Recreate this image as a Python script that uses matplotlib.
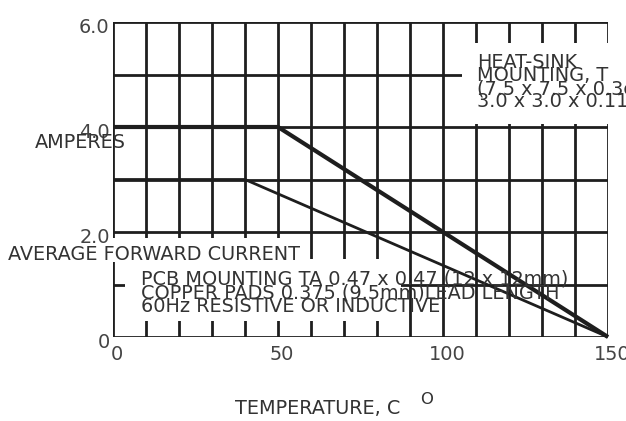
import matplotlib
matplotlib.use("Agg")
import matplotlib.pyplot as plt
from matplotlib.patches import Rectangle

# ---- data ----
temp_heatsink = [0, 50, 150]
amps_heatsink = [4.0, 4.0, 0.0]
temp_pcb = [0, 40, 150]
amps_pcb = [3.0, 3.0, 0.0]
x_ticks = [0, 50, 100, 150]
x_ticklabels = ["0", "50", "100", "150"]
y_ticks = [0, 2, 4, 6]
y_ticklabels = ["0", "2.0", "4.0", "6.0"]
x_grid = list(range(0, 151, 10))
y_grid = [0, 1, 2, 3, 4, 5, 6]

plt.rcParams['font.family'] = ['DejaVu Sans']
W, H = 626, 421
fig = plt.figure(figsize=(W / 100, H / 100), dpi=100)
ax = fig.add_axes([113 / W, 1 - 337 / H, (608 - 113) / W, (337 - 22) / H])
ax.set_xlim(0, 150)
ax.set_ylim(0, 6)
for s in ax.spines.values():
    s.set_visible(False)
ax.set_xticks([])
ax.set_yticks([])

gc = "#1e1e1e"
for xv in x_grid:
    ax.axvline(xv, color=gc, lw=2.0, zorder=1)
for yv in y_grid:
    ax.axhline(yv, color=gc, lw=2.0, zorder=1)

# white masks behind the annotation blocks (as in the original image)
def px_rect(x0, y0, x1, y1):
    r = Rectangle((x0 / W, 1 - y1 / H), (x1 - x0) / W, (y1 - y0) / H,
                  transform=fig.transFigure, facecolor="white",
                  edgecolor="none", zorder=2)
    r.set_clip_on(False)
    return r

ax.add_patch(px_rect(462, 43, 626, 124))
ax.add_patch(px_rect(125, 259, 401, 321))
ax.add_patch(px_rect(4, 238, 307, 262))

ax.plot(temp_heatsink, amps_heatsink, color=gc, lw=3.0, zorder=3,
        solid_capstyle="butt", clip_on=False)
ax.plot(temp_pcb, amps_pcb, color=gc, lw=2.0, zorder=3,
        solid_capstyle="butt", clip_on=False)

tc = "#333333"
fs = 13.9
# tick labels
for xv, lab in zip(x_ticks, x_ticklabels):
    ax.text(xv + 1.2, -0.33, lab, ha="center", va="center", fontsize=fs,
            color="#444444", clip_on=False, zorder=5)
for yv, lab in zip(y_ticks, y_ticklabels):
    ax.text(-1.0, yv - 0.1, lab, ha="right", va="center", fontsize=fs,
            color="#444444", clip_on=False, zorder=5)

fig.text(35 / W, 1 - 143 / H, "AMPERES", ha="left", va="center",
         fontsize=fs, color=tc, zorder=5)
fig.text(8 / W, 1 - 254 / H, "AVERAGE FORWARD CURRENT", ha="left",
         va="center", fontsize=fs, color=tc, zorder=5)
fig.text(235 / W, 1 - 408 / H, "TEMPERATURE, C", ha="left", va="center",
         fontsize=fs, color=tc, zorder=5)
fig.text(420 / W, 1 - 400 / H, "O", ha="left", va="center",
         fontsize=fs * 0.85, color=tc, zorder=5)

heat_lines = ["HEAT-SINK", "MOUNTING, T", "(7.5 x 7.5 x 0.3cm", "3.0 x 3.0 x 0.11"]
for i, t in enumerate(heat_lines):
    fig.text(477 / W, 1 - (62 + 13.3 * i) / H, t, ha="left", va="center",
             fontsize=fs, color=tc, zorder=5)

pcb_lines = ["PCB MOUNTING TA 0.47 x 0.47 (12 x 12mm)",
             "COPPER PADS 0.375 (9.5mm)LEAD LENGTH",
             "60Hz RESISTIVE OR INDUCTIVE"]
for i, t in enumerate(pcb_lines):
    fig.text(141 / W, 1 - (279 + 14 * i) / H, t, ha="left", va="center",
             fontsize=fs, color=tc, zorder=5)

fig.savefig("out.png", dpi=100)
